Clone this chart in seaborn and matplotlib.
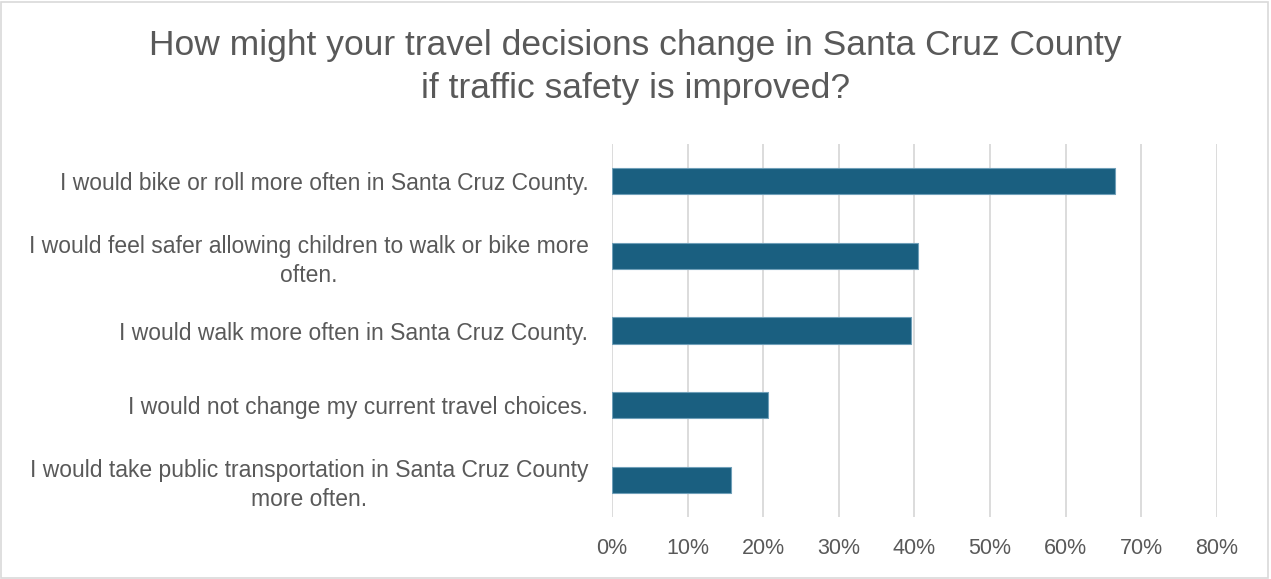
import matplotlib
matplotlib.use("Agg")
import matplotlib.pyplot as plt
import seaborn as sns
import pandas as pd
from matplotlib.ticker import FuncFormatter, MultipleLocator
from matplotlib.patches import Rectangle

categories = [
    "I would bike or roll more often in Santa Cruz County.",
    "I would feel safer allowing children to walk or bike more\noften.",
    "I would walk more often in Santa Cruz County.",
    "I would not change my current travel choices.",
    "I would take public transportation in Santa Cruz County\nmore often.",
]
values = [66.6, 40.5, 39.6, 20.6, 15.7]
title = "How might your travel decisions change in Santa Cruz County\nif traffic safety is improved?"

sns.set_theme(style="white")
plt.rcParams['font.family'] = ['Liberation Sans', 'DejaVu Sans']

df = pd.DataFrame({"cat": categories, "val": values})

fig = plt.figure(figsize=(12.71, 5.79), dpi=100)
ax = fig.add_axes([0.4815, 0.107, 0.4758, 0.6443])

sns.barplot(data=df, x="val", y="cat", color="#1a5f80", width=0.35,
            saturation=1, ax=ax, edgecolor="#6f9fb8", linewidth=0.8, zorder=3)

ax.set_xlim(0, 80)
ax.xaxis.set_major_locator(MultipleLocator(10))
ax.xaxis.set_major_formatter(FuncFormatter(lambda v, p: f"{int(round(v))}%"))
ax.grid(axis="x", color="#d9d9d9", linewidth=1.3, zorder=0)
ax.grid(axis="y", visible=False)
for s in ax.spines.values():
    s.set_visible(False)
ax.set_xlabel("")
ax.set_ylabel("")
ax.tick_params(axis="x", labelsize=15.5, colors="#595959", pad=15, length=0)
ax.tick_params(axis="y", labelsize=16.5, colors="#595959", pad=17, length=0)
for lab in ax.get_yticklabels():
    lab.set_multialignment("center")
    lab.set_linespacing(1.3)

fig.text(0.5, 0.885, title, ha="center", va="center", fontsize=25.5,
         color="#595959", linespacing=1.38)

fig.patches.append(Rectangle((0.001, 0.002), 0.997, 0.995, transform=fig.transFigure,
                             fill=False, edgecolor="#d9d9d9", linewidth=1.2))

fig.savefig("out.png", dpi=100)
